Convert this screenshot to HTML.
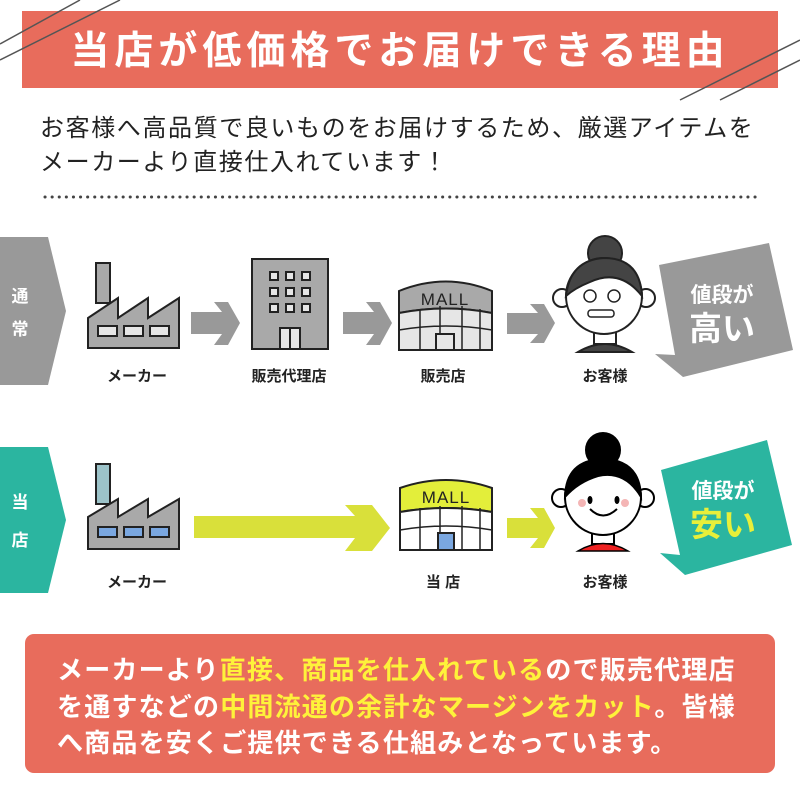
<!DOCTYPE html>
<html><head><meta charset="utf-8"><style>
body{margin:0;background:#fff;}
svg{display:block}
text{font-family:"Liberation Sans","Noto Sans CJK JP",sans-serif;}
</style></head><body>
<svg width="800" height="800" viewBox="0 0 800 800" xmlns="http://www.w3.org/2000/svg">
<rect width="800" height="800" fill="#fff"/>
<!-- header -->
<rect x="22" y="11" width="756" height="77" fill="#e86c5c"/>
<g stroke="#555" stroke-width="1.5">
<line x1="0" y1="44" x2="80" y2="0"/><line x1="0" y1="60" x2="120" y2="0"/>
<line x1="680" y1="100" x2="800" y2="40"/><line x1="720" y1="100" x2="800" y2="60"/>
</g>
<text x="400" y="64" font-size="39" font-weight="bold" fill="#fff" text-anchor="middle" letter-spacing="5">当店が低価格でお届けできる理由</text>
<text x="40" y="136" font-size="24" fill="#222" letter-spacing="1.6">お客様へ高品質で良いものをお届けするため、厳選アイテムを</text>
<text x="40" y="170" font-size="24" fill="#222" letter-spacing="1.6">メーカーより直接仕入れています！</text>
<line x1="45" y1="197" x2="757" y2="197" stroke="#444" stroke-width="3" stroke-dasharray="0.1 7" stroke-linecap="round"/>

<!-- row 1 -->
<polygon points="0,237 48,237 66,311 48,385 0,385" fill="#999"/>
<text x="20" y="302" font-size="17" font-weight="bold" fill="#fff" text-anchor="middle">通</text>
<text x="20" y="335" font-size="17" font-weight="bold" fill="#fff" text-anchor="middle">常</text>
<g stroke="#222" stroke-width="2" fill="#a9a9a9">
<rect x="96" y="263" width="14" height="40"/>
<polygon points="88,318 118,298 118,318 148,298 148,318 179,298 179,348 88,348"/>
<g fill="#e6e6e6"><rect x="98" y="326" width="19" height="10"/><rect x="124" y="326" width="19" height="10"/><rect x="150" y="326" width="19" height="10"/></g>
</g>
<polygon points="191,312 222,312 214,302 228,302 240,323 228,345 214,345 222,334 191,334" fill="#999"/>
<g stroke="#222" stroke-width="2"><rect x="252" y="259" width="76" height="90" fill="#a9a9a9"/>
<g fill="#e6e6e6"><rect x="270" y="272" width="8" height="8"/><rect x="286" y="272" width="8" height="8"/><rect x="302" y="272" width="8" height="8"/>
<rect x="270" y="288" width="8" height="8"/><rect x="286" y="288" width="8" height="8"/><rect x="302" y="288" width="8" height="8"/>
<rect x="270" y="304" width="8" height="8"/><rect x="286" y="304" width="8" height="8"/><rect x="302" y="304" width="8" height="8"/>
<rect x="280" y="328" width="20" height="21"/><line x1="290" y1="328" x2="290" y2="349"/></g></g>
<polygon points="343,312 374,312 366,302 380,302 392,323 380,345 366,345 374,334 343,334" fill="#999"/>
<g stroke="#222" stroke-width="2">
<path d="M399,291 Q446,272 492,291 L492,313 Q446,304 399,313 Z" fill="#a9a9a9"/>
<path d="M399,313 Q446,304 492,313 L492,350 L399,350 Z" fill="#e6e6e6"/>
<path d="M399,330 Q446,322 492,330 M420,309 V350 M440,306 V350 M462,306 V350 M480,309 V350" fill="none" stroke-width="1.5"/>
<rect x="436" y="334" width="18" height="16" fill="#e6e6e6"/>
</g>
<text x="445" y="305" font-size="17" fill="#222" text-anchor="middle" letter-spacing="1">MALL</text>
<polygon points="507,313 538,313 530,304 544,304 555,323 544,343 530,343 538,334 507,334" fill="#999"/>
<g stroke="#222" stroke-width="2">
<circle cx="605" cy="253" r="17" fill="#444"/>
<circle cx="562" cy="298" r="9" fill="#fff"/><circle cx="646" cy="298" r="9" fill="#fff"/>
<rect x="594" y="330" width="22" height="14" fill="#fff"/>
<path d="M578,352 Q605,336 632,352 Z" fill="#444"/>
<circle cx="604" cy="296" r="38" fill="#fff"/>
<path d="M566,296 Q570,260 604,258 Q640,258 642,296 Q620,268 590,282 Q575,288 566,296 Z" fill="#444"/>
<circle cx="590" cy="296" r="6" fill="none" stroke-width="1.5"/><circle cx="614" cy="296" r="6" fill="none" stroke-width="1.5"/>
<rect x="588" y="310" width="26" height="7" rx="3" fill="#fff" stroke-width="1.5"/>
</g>
<text x="605" y="381" font-size="15" font-weight="bold" fill="#222" text-anchor="middle">お客様</text>
<polygon points="659,265 769,243 793,350 683,377 655,354 675,355" fill="#999"/>
<text x="722" y="302" font-size="21" font-weight="bold" fill="#fff" text-anchor="middle">値段が</text>
<text x="722" y="340" font-size="33" font-weight="bold" fill="#fff" text-anchor="middle">高い</text>
<g font-size="15" font-weight="bold" fill="#222" text-anchor="middle">
<text x="137" y="381">メーカー</text><text x="289" y="381">販売代理店</text><text x="443" y="381">販売店</text>
</g>

<!-- row 2 -->
<polygon points="0,447 48,447 66,520 48,593 0,593" fill="#2bb5a0"/>
<text x="20" y="508" font-size="17" font-weight="bold" fill="#fff" text-anchor="middle">当</text>
<text x="20" y="546" font-size="17" font-weight="bold" fill="#fff" text-anchor="middle">店</text>
<g stroke="#222" stroke-width="2" fill="#a9a9a9">
<rect x="96" y="464" width="14" height="40" fill="#9cc3c9"/>
<polygon points="88,517 118,499 118,517 148,499 148,517 179,499 179,549 88,549"/>
<g fill="#7aa7e0"><rect x="98" y="527" width="19" height="10"/><rect x="124" y="527" width="19" height="10"/><rect x="150" y="527" width="19" height="10"/></g>
</g>
<polygon points="194,516 355,516 345,505 372,505 390,528 372,551 345,551 355,538 194,538" fill="#d9e03a"/>
<g stroke="#222" stroke-width="2">
<path d="M400,488 Q446,472 492,488 L492,512 Q446,504 400,512 Z" fill="#e3ee3a"/>
<path d="M400,512 Q446,504 492,512 L492,550 L400,550 Z" fill="#fff"/>
<path d="M400,530 Q446,522 492,530 M420,508 V550 M440,506 V550 M462,506 V550 M480,508 V550" fill="none" stroke-width="1.5"/>
<rect x="438" y="533" width="16" height="17" fill="#7aa7e0"/>
</g>
<text x="446" y="503" font-size="17" fill="#222" text-anchor="middle" letter-spacing="1">MALL</text>
<polygon points="507,518 538,518 530,508 544,508 555,528 544,548 530,548 538,538 507,538" fill="#d9e03a"/>
<g stroke="#000" stroke-width="2">
<circle cx="603" cy="450" r="17" fill="#000"/>
<circle cx="561" cy="498" r="9" fill="#fff"/><circle cx="645" cy="498" r="9" fill="#fff"/>
<rect x="592" y="530" width="22" height="14" fill="#fff"/>
<path d="M578,551 Q603,536 628,551 Z" fill="#e22" stroke-width="1.5"/>
<circle cx="603" cy="497" r="38" fill="#fff"/>
<path d="M565,497 Q566,460 603,459 Q640,460 641,497 Q625,470 598,476 Q578,482 565,497 Z" fill="#000"/>
<ellipse cx="590" cy="500" rx="2.5" ry="4" fill="#000" stroke="none"/><ellipse cx="617" cy="500" rx="2.5" ry="4" fill="#000" stroke="none"/>
<path d="M590,509 Q603,522 617,509" fill="none"/>
</g>
<circle cx="582" cy="503" r="4" fill="#f4b5b5"/><circle cx="625" cy="503" r="4" fill="#f4b5b5"/>
<polygon points="661,470 767,440 792,545 685,575 660,553 680,555" fill="#2bb5a0"/>
<text x="723" y="498" font-size="21" font-weight="bold" fill="#fff" text-anchor="middle">値段が</text>
<text x="723" y="536" font-size="33" font-weight="bold" fill="#e8ef3a" text-anchor="middle">安い</text>
<g font-size="15" font-weight="bold" fill="#222" text-anchor="middle">
<text x="137" y="587">メーカー</text><text x="443" y="587">当 店</text><text x="605" y="587">お客様</text>
</g>

<!-- bottom -->
<rect x="25" y="634" width="750" height="139" rx="9" fill="#e86c5c"/>
<g font-size="26" fill="#fff" font-weight="bold" letter-spacing="1.2">
<text x="57" y="679">メーカーより<tspan fill="#fef23a">直接、商品を仕入れている</tspan>ので販売代理店</text>
<text x="57" y="716">を通すなどの<tspan fill="#fef23a">中間流通の余計なマージンをカット</tspan>。皆様</text>
<text x="57" y="752">へ商品を安くご提供できる仕組みとなっています。</text>
</g>
</svg>
</body></html>
